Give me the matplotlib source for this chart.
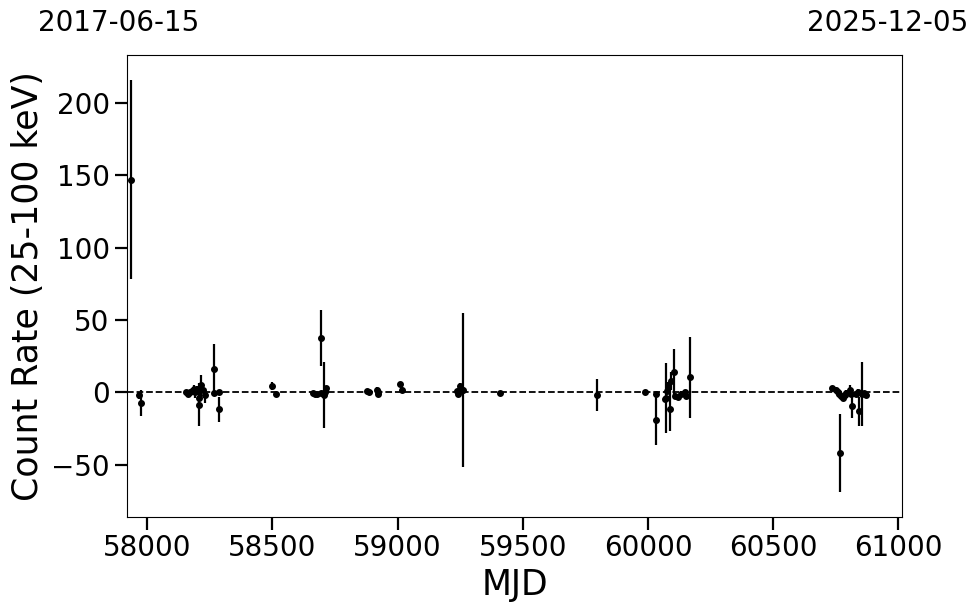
import numpy as np
import matplotlib
matplotlib.use("Agg")
import matplotlib.pyplot as plt

# light curve values
mjd = [57936, 57965, 57976,
       58156, 58161, 58170, 58178, 58185, 58191, 58198, 58205, 58205, 58214,
       58221, 58231, 58267, 58267, 58288, 58288,
       58500, 58515,
       58663, 58670, 58677, 58693, 58693, 58706, 58710, 58714,
       58876, 58885, 58919, 58921, 58922, 59009, 59016,
       59235, 59242, 59249, 59255, 59262, 59408,
       59796,
       59986, 60030, 60030, 60068, 60073, 60076, 60079, 60088, 60090, 60102,
       60106, 60119, 60130, 60146, 60153, 60166,
       60736, 60750, 60758, 60764, 60766, 60771, 60778, 60785, 60791, 60806,
       60812, 60816, 60830, 60838, 60843, 60856, 60862, 60871]
rate = [147, -2, -7.6,
        0.5, -0.9, 0.3, 0.8, 2.1, 0, 1.5, -3.7, -8.5, 4.8,
        2, -2, 16.3, -0.7, 0.2, -11.7,
        4.4, -0.9,
        -0.2, -0.8, -1.2, 37.7, -0.2, -1.8, 0.5, 3.2,
        0.9, 0.2, 2, -1.4, 0, 5.5, 2,
        0.9, -1.4, 4.4, 2, 1.6, -0.2,
        -1.8,
        0.2, -1.4, -19, -4.8, -3.7, 1, 4.4, -11.7, 7.8, 14,
        -2.5, -3, -1, 0.2, -2.5, 10.5,
        3.2, 2, 0.5, -1.4, -41.6, -2.5, -3.7, -2, -0.2, 1.4,
        -1, -9.4, -1, 0.5, -12.9, -1, -0.2, -1.5]
err = [69, 2.5, 9,
       1.5, 1.5, 1.5, 2, 3, 4, 3, 5, 15, 7,
       2, 5, 17, 1.5, 1.5, 8.8,
       3, 1.5,
       1.5, 1.5, 1.5, 19.2, 1.5, 23, 2, 1.5,
       1.5, 1.5, 1.5, 1.5, 1.5, 2, 1.5,
       1.5, 1.5, 2, 2, 53, 1,
       11,
       1, 1.5, 17, 2, 24, 2, 3, 15, 6, 16,
       2, 2, 2, 1.5, 2, 28,
       1.5, 1.5, 1.5, 2, 27, 2, 2, 2, 2, 4,
       2, 8, 2, 2, 10, 22, 1.5, 2]

start_mjd, end_mjd = 57919, 61014
start_date, end_date = "2017-06-15", "2025-12-05"

fig = plt.figure(figsize=(9.8, 6.13), dpi=100)
ax = fig.add_axes([127/980, 1 - 517/613, (902-127)/980, (517-55)/613])

ax.errorbar(mjd, rate, yerr=err, fmt='o', color='black', ms=4,
            elinewidth=1.6, capsize=0)
ax.axhline(0, color='black', ls='--', lw=1.3)

ax.set_xlim(start_mjd, end_mjd)
ax.set_ylim(-86, 233)
ax.set_xticks(np.arange(58000, 61001, 500))
ax.set_yticks(np.arange(-50, 201, 50))
ax.tick_params(labelsize=20, length=9, width=1.6)
ax.set_xlabel('MJD', fontsize=25)
ax.set_ylabel('Count Rate (25-100 keV)', fontsize=25)

fig.text(38/980, 1 - 23/613, start_date, fontsize=20, ha='left', va='center')
fig.text(968/980, 1 - 23/613, end_date, fontsize=20, ha='right', va='center')

fig.savefig('out.png', dpi=100)
